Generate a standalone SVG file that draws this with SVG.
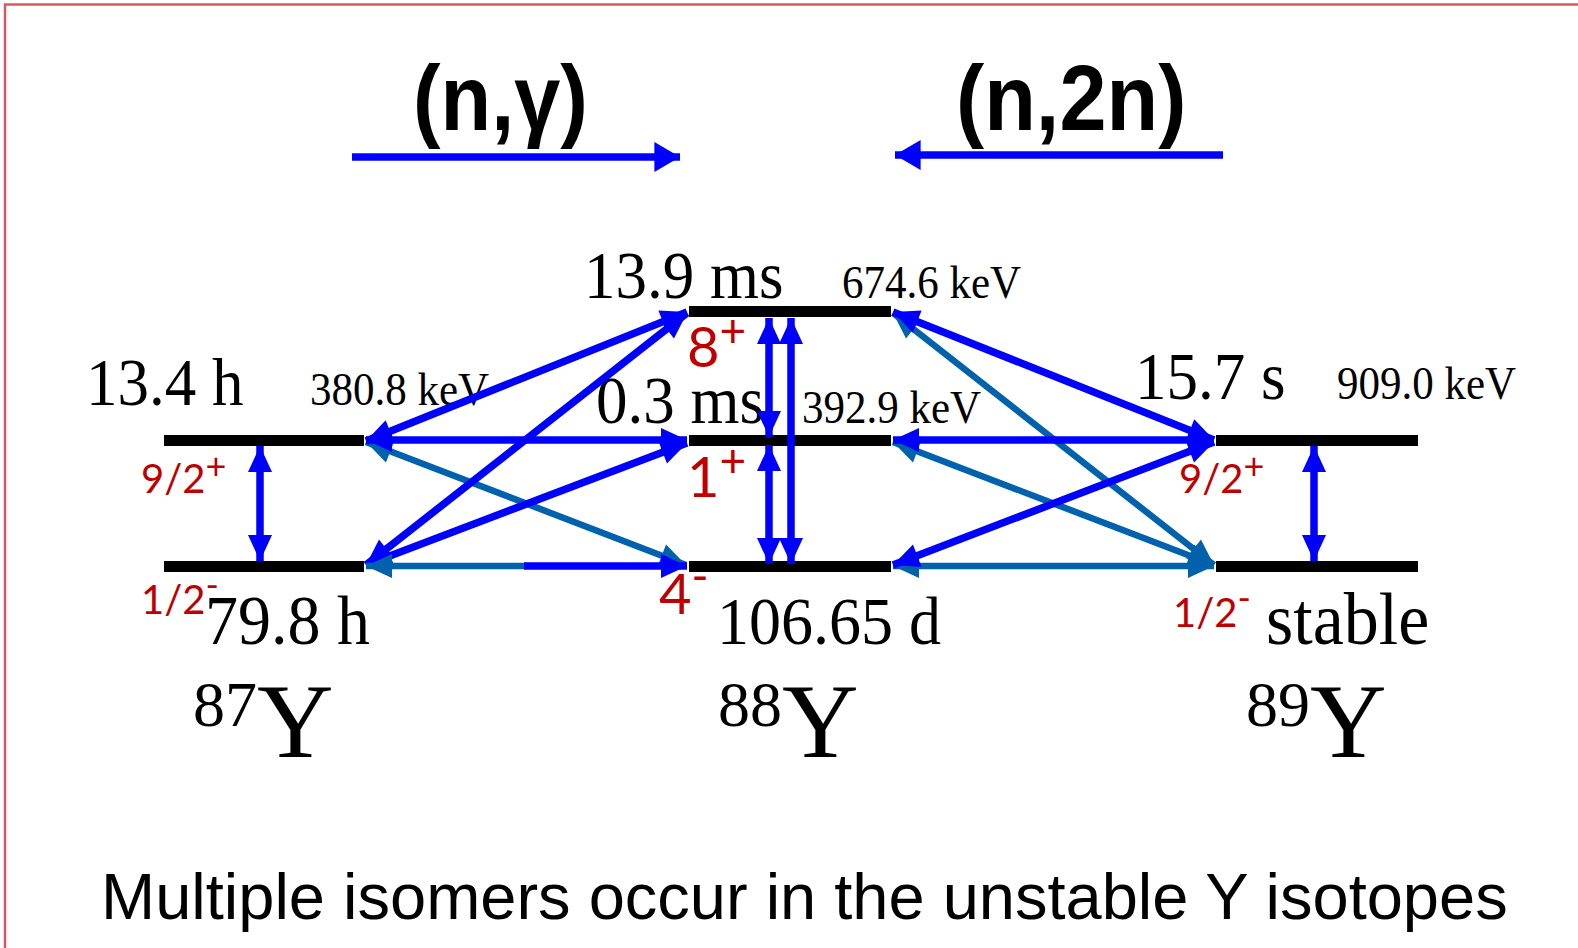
<svg xmlns="http://www.w3.org/2000/svg" width="1578" height="948" viewBox="0 0 1578 948">
<style>
.bar{stroke:#000;stroke-width:11;fill:none}
.b{stroke:#0000FF;stroke-width:7.5;fill:none}
.s{stroke:#0061AC;stroke-width:6.5;fill:none}
.serif{font-family:"Liberation Serif","Times New Roman",serif;fill:#000}
.sans{font-family:"Liberation Sans",Arial,sans-serif;fill:#000}
.red{font-family:Lato,"Noto Sans",sans-serif;fill:#C00000}
</style>
<defs>
<marker id="hb" markerUnits="userSpaceOnUse" markerWidth="28" markerHeight="28" viewBox="-27 -13 28 26" refX="0" refY="0" orient="auto-start-reverse"><path d="M0,0 L-26,-12 L-26,12 Z" fill="#0000FF"/></marker>
<marker id="hs" markerUnits="userSpaceOnUse" markerWidth="28" markerHeight="28" viewBox="-27 -13 28 26" refX="0" refY="0" orient="auto-start-reverse"><path d="M0,0 L-26,-12 L-26,12 Z" fill="#0061AC"/></marker>
<marker id="ht" markerUnits="userSpaceOnUse" markerWidth="32" markerHeight="32" viewBox="-27 -15 28 30" refX="0" refY="0" orient="auto"><path d="M0,0 L-24,-14 L-24,14 Z" fill="#0000FF"/></marker>
</defs>
<rect width="1578" height="948" fill="#fff"/>
<path d="M5,948 V4.5 H1578" fill="none" stroke="#d65a60" stroke-width="2.5"/>

<g id="title-ng">
<text class="sans" font-weight="bold" font-size="92" transform="translate(413,130) scale(0.9,1)">(n,γ)</text>
</g>
<g id="title-n2n">
<text class="sans" font-weight="bold" font-size="92" transform="translate(956,130) scale(0.92,1)">(n,2n)</text>
</g>

<g id="Y87">
<line class="bar" x1="164" y1="440.5" x2="364" y2="440.5"/>
<line class="bar" x1="164" y1="566.5" x2="364" y2="566.5"/>
<text class="serif" font-size="63" transform="translate(86,405) scale(1,1.07)">13.4 h</text>
<text class="serif" font-size="43" transform="translate(310,405) scale(1,1.07)">380.8 keV</text>
<text class="red" font-size="40" x="141" y="493">9/2<tspan font-size="36" dy="-14">+</tspan></text>
<text class="red" font-size="40" x="141" y="614">1/2<tspan font-size="36" dy="-16">-</tspan></text>
<text class="serif" font-size="66" transform="translate(205,644) scale(1,1.07)">79.8 h</text>
<text class="serif" x="193" y="726" font-size="64">87<tspan font-size="106" dy="31">Y</tspan></text>
</g>

<g id="Y88">
<line class="bar" x1="689" y1="311.5" x2="891" y2="311.5"/>
<line class="bar" x1="689" y1="440.5" x2="891" y2="440.5"/>
<line class="bar" x1="689" y1="566.5" x2="891" y2="566.5"/>
<text class="serif" font-size="63" transform="translate(584,298) scale(1,1.07)">13.9 ms</text>
<text class="serif" font-size="43" transform="translate(842,298) scale(1,1.07)">674.6 keV</text>
<text class="serif" font-size="63" transform="translate(596,423) scale(1,1.07)">0.3 ms</text>
<text class="serif" font-size="43" transform="translate(802,423) scale(1,1.07)">392.9 keV</text>
<text class="red" font-size="56" x="687" y="367">8<tspan font-size="46" dy="-20">+</tspan></text>
<text class="red" font-size="56" x="687" y="497">1<tspan font-size="46" dy="-20">+</tspan></text>
<text class="red" font-size="56" x="659" y="614">4<tspan font-size="46" dy="-22">-</tspan></text>
<text class="serif" font-size="64" transform="translate(717,644) scale(1,1.07)">106.65 d</text>
<text class="serif" x="718" y="726" font-size="64">88<tspan font-size="106" dy="31">Y</tspan></text>
</g>

<g id="Y89">
<line class="bar" x1="1216" y1="440.5" x2="1418" y2="440.5"/>
<line class="bar" x1="1216" y1="566.5" x2="1418" y2="566.5"/>
<text class="serif" font-size="63" transform="translate(1135,399) scale(1,1.07)">15.7 s</text>
<text class="serif" font-size="43" transform="translate(1337,399) scale(1,1.07)">909.0 keV</text>
<text class="red" font-size="40" x="1179" y="493">9/2<tspan font-size="36" dy="-14">+</tspan></text>
<text class="red" font-size="40" x="1173" y="627">1/2<tspan font-size="36" dy="-16">-</tspan></text>
<text class="serif" font-size="70" transform="translate(1266,644) scale(1,1.07)">stable</text>
<text class="serif" x="1246" y="726" font-size="64">89<tspan font-size="106" dy="31">Y</tspan></text>
</g>

<g id="caption">
<text class="sans" font-size="65" x="101" y="919">Multiple isomers occur in the unstable Y isotopes</text>
</g>

<g id="connectors">
<line class="b" stroke-width="8" x1="352" y1="157" x2="680" y2="157" marker-end="url(#ht)"/>
<line class="b" stroke-width="8" x1="1223" y1="155" x2="895" y2="155" marker-end="url(#ht)"/>

<line class="s" x1="366" y1="442" x2="686" y2="565" marker-start="url(#hs)" marker-end="url(#hs)"/>
<line class="b" x1="366" y1="441" x2="687" y2="312" marker-start="url(#hb)" marker-end="url(#hb)"/>
<line class="b" x1="366" y1="565" x2="687" y2="313" marker-start="url(#hb)" marker-end="url(#hb)"/>
<line class="b" x1="366" y1="440" x2="687" y2="440" marker-start="url(#hb)" marker-end="url(#hb)"/>
<line class="b" x1="366" y1="565" x2="687" y2="443" marker-start="url(#hb)" marker-end="url(#hb)"/>
<line class="s" x1="366" y1="566" x2="526" y2="566" marker-start="url(#hs)"/>
<line class="b" x1="524" y1="566" x2="687" y2="566" marker-end="url(#hb)"/>

<line class="s" x1="893" y1="313" x2="1214" y2="565" marker-start="url(#hs)" marker-end="url(#hs)"/>
<line class="s" x1="893" y1="442" x2="1214" y2="565" marker-start="url(#hs)" marker-end="url(#hs)"/>
<line class="s" x1="893" y1="566" x2="1214" y2="566" marker-start="url(#hs)" marker-end="url(#hs)"/>
<line class="b" x1="893" y1="312" x2="1214" y2="440" marker-start="url(#hb)" marker-end="url(#hb)"/>
<line class="b" x1="893" y1="440" x2="1214" y2="440" marker-start="url(#hb)" marker-end="url(#hb)"/>
<line class="b" x1="893" y1="565" x2="1214" y2="442" marker-start="url(#hb)" marker-end="url(#hb)"/>

<line class="b" stroke-width="6.5" x1="769" y1="318" x2="769" y2="437" marker-start="url(#hb)" marker-end="url(#hb)"/>
<line class="b" stroke-width="6.5" x1="769" y1="445" x2="769" y2="564" marker-start="url(#hb)" marker-end="url(#hb)"/>
<line class="b" stroke-width="6.5" x1="791" y1="318" x2="791" y2="564" marker-start="url(#hb)" marker-end="url(#hb)"/>
<line class="b" stroke-width="6.5" x1="260" y1="446" x2="260" y2="561" marker-start="url(#hb)" marker-end="url(#hb)"/>
<line class="b" stroke-width="6.5" x1="1314" y1="446" x2="1314" y2="561" marker-start="url(#hb)" marker-end="url(#hb)"/>
</g>
</svg>
